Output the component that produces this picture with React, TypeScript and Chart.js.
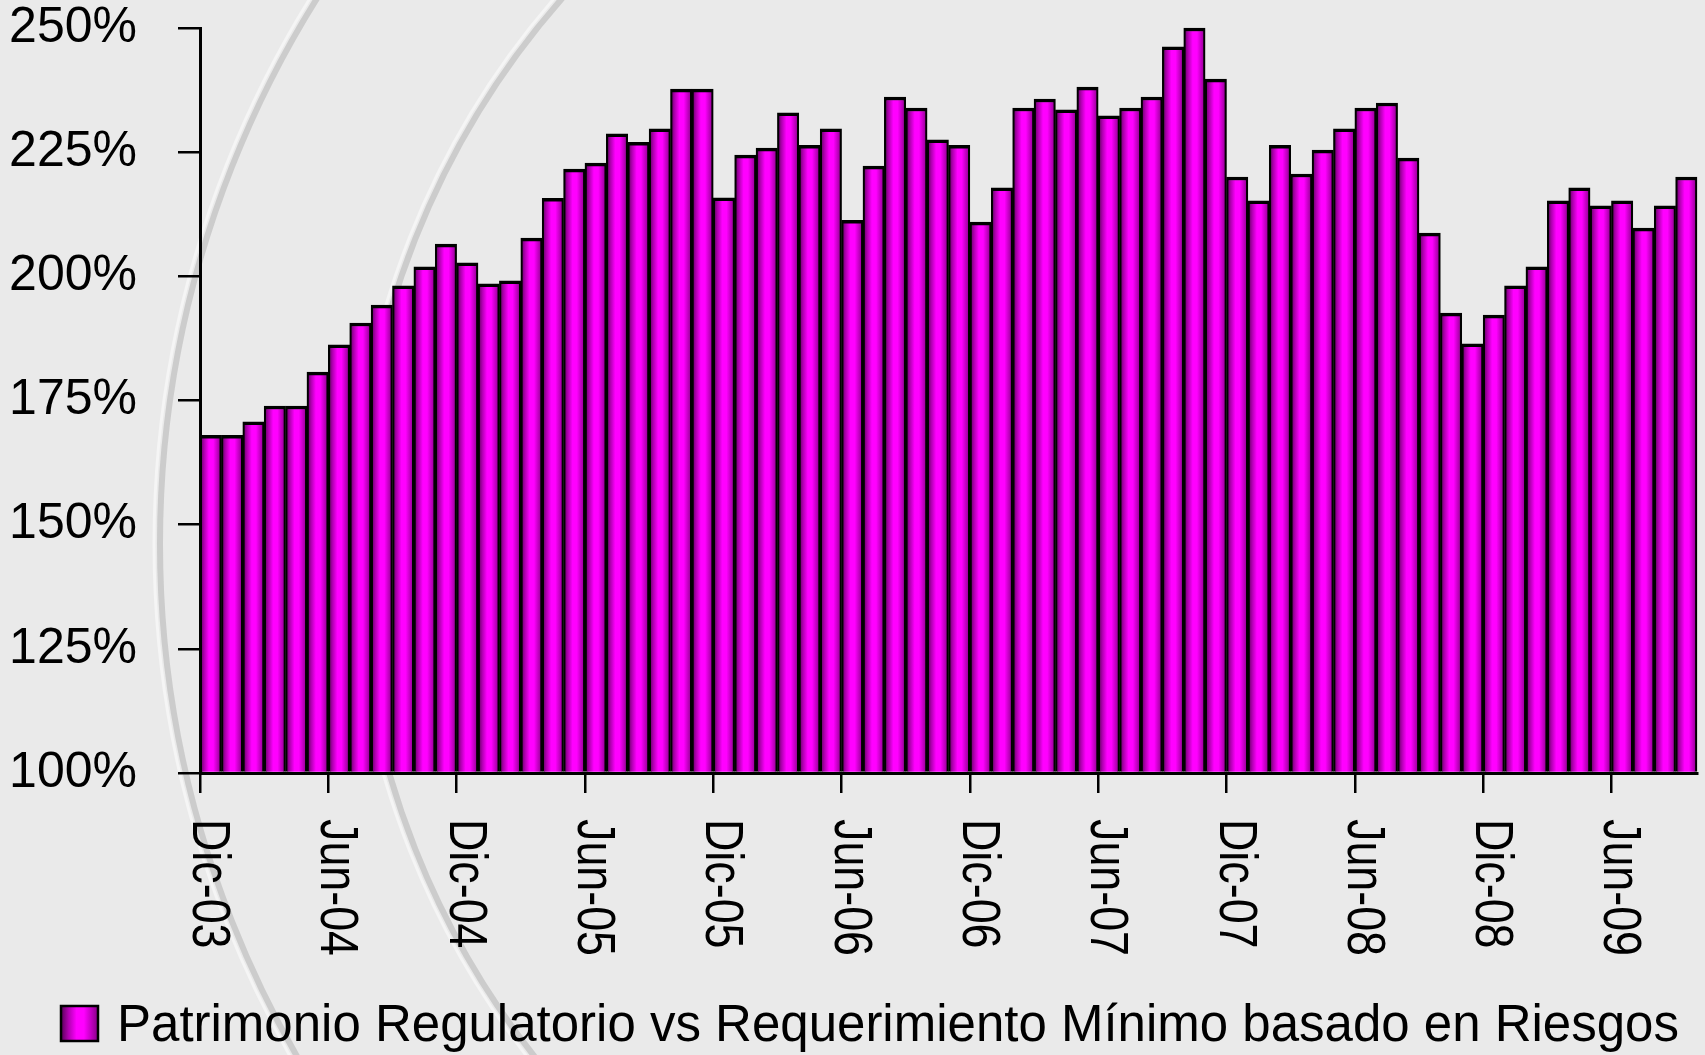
import React, { useEffect, useRef } from "react";
import { Chart, registerables } from "chart.js";

Chart.register(...registerables);

// ---------------- data ----------------
const seriesLabel = "Patrimonio Regulatorio vs Requerimiento Mínimo basado en Riesgos";

// monthly ratio, Dic-03 .. Sep-09 (70 months)
const ratioValues = [
  168.0, 168.0, 170.7, 173.9, 173.9, 180.7, 186.2, 190.6, 194.2, 198.1,
  201.9, 206.5, 202.7, 198.5, 199.1, 207.7, 215.7, 221.6, 222.8, 228.7,
  227.0, 229.7, 237.7, 237.7, 215.8, 224.4, 225.8, 232.9, 226.4, 229.7,
  211.3, 222.2, 236.1, 233.9, 227.5, 226.4, 210.9, 217.8, 233.9, 235.7,
  233.5, 238.1, 232.3, 233.9, 236.1, 246.2, 250.0, 239.7, 220.0, 215.2,
  226.4, 220.6, 225.4, 229.7, 233.9, 234.9, 223.8, 208.7, 192.6, 186.4,
  192.2, 198.1, 201.9, 215.2, 217.8, 214.2, 215.2, 209.7, 214.2, 220.0,
];

const tickLabels = [
  "Dic-03", "Jun-04", "Dic-04", "Jun-05", "Dic-05", "Jun-06",
  "Dic-06", "Jun-07", "Dic-07", "Jun-08", "Dic-08", "Jun-09",
];
const monthsPerTick = 6;

const yMin = 100;
const yMax = 250;
const yStep = 25;

// ---------------- styles ----------------
const W = 1705;
const H = 1055;
const FONT_REG = '"Liberation Sans", Arial, sans-serif';

function barGradient(ctx: CanvasRenderingContext2D, l: number, r: number) {
  const g = ctx.createLinearGradient(l, 0, r, 0);
  g.addColorStop(0, "#560056");
  g.addColorStop(0.2, "#b000b0");
  g.addColorStop(0.42, "#ff00ff");
  g.addColorStop(0.62, "#ff00ff");
  g.addColorStop(1, "#860086");
  return g;
}

const backgroundPlugin = {
  id: "paperBackground",
  beforeDraw(chart: any) {
    const ctx = chart.ctx as CanvasRenderingContext2D;
    ctx.save();
    ctx.fillStyle = "#eaeaea";
    ctx.fillRect(0, 0, chart.width, chart.height);
    // faint watermark seal arcs
    const cx = 1185, cy = 544;
    [1025, 828].forEach((r) => {
      ctx.beginPath();
      ctx.arc(cx, cy, r, 0, Math.PI * 2);
      ctx.strokeStyle = "rgba(150,150,150,0.35)";
      ctx.lineWidth = 6;
      ctx.stroke();
      ctx.beginPath();
      ctx.arc(cx, cy, r + 6, 0, Math.PI * 2);
      ctx.strokeStyle = "rgba(255,255,255,0.5)";
      ctx.lineWidth = 3;
      ctx.stroke();
    });
    ctx.restore();
  },
};

const labelsPlugin = {
  id: "rotatedLabelsAndLegend",
  afterDraw(chart: any) {
    const ctx = chart.ctx as CanvasRenderingContext2D;
    const xs = chart.scales.x;
    ctx.save();
    ctx.fillStyle = "#000";
    ctx.font = `54px ${FONT_REG}`;
    ctx.textAlign = "left";
    ctx.textBaseline = "alphabetic";
    xs.ticks.forEach((t: any, k: number) => {
      const px = xs.getPixelForValue(t.value);
      ctx.save();
      ctx.translate(px - 7, chart.chartArea.bottom + 46);
      ctx.rotate(Math.PI / 2);
      ctx.scale(0.83, 1);
      ctx.fillText(tickLabels[k], 0, 0);
      ctx.restore();
    });

    // legend
    const bx = 61, by = 1006, bw = 37, bh = 35;
    ctx.fillStyle = barGradient(ctx, bx, bx + bw);
    ctx.fillRect(bx, by, bw, bh);
    ctx.strokeStyle = "#000";
    ctx.lineWidth = 2.5;
    ctx.strokeRect(bx, by, bw, bh);
    ctx.fillStyle = "#000";
    ctx.font = `51px ${FONT_REG}`;
    ctx.fillText(chart.data.datasets[0].label, 117, 1041);
    ctx.restore();
  },
};

export default function App() {
  const canvasRef = useRef<HTMLCanvasElement | null>(null);

  useEffect(() => {
    document.body.style.margin = "0";
    const canvas = canvasRef.current;
    if (!canvas) return;

    const points = ratioValues.map((v, i) => ({ x: i + 0.5, y: v }));
    const tickValues = tickLabels.map((_, k) => k * monthsPerTick);

    const chart = new Chart(canvas, {
      type: "bar",
      data: {
        datasets: [
          {
            label: seriesLabel,
            data: points as any,
            base: yMin,
            backgroundColor: (c: any) => {
              const ch = c.chart;
              const xs = ch.scales && ch.scales.x;
              if (!xs || c.dataIndex === undefined || c.type !== "data") return "#ff00ff";
              const l = xs.getPixelForValue(c.dataIndex);
              const r = xs.getPixelForValue(c.dataIndex + 1);
              if (!isFinite(l) || !isFinite(r)) return "#ff00ff";
              return barGradient(ch.ctx, l, r);
            },
            borderColor: "#000",
            borderWidth: { top: 3.5, left: 2.2, right: 2.2, bottom: 0 } as any,
            borderSkipped: false,
            barPercentage: 1,
            categoryPercentage: 1,
            clip: false as any,
          } as any,
        ],
      },
      options: {
        animation: false,
        responsive: true,
        maintainAspectRatio: false,
        layout: { padding: { top: 28, right: 8, left: 0, bottom: 0 } },
        plugins: {
          legend: { display: false },
          tooltip: { enabled: false },
        },
        scales: {
          x: {
            type: "linear",
            min: 0,
            max: ratioValues.length,
            offset: false,
            afterBuildTicks: (scale: any) => {
              scale.ticks = tickValues.map((v) => ({ value: v }));
            },
            afterFit: (scale: any) => {
              scale.height = 282;
              scale.paddingLeft = 0;
              scale.paddingRight = 0;
            },
            ticks: { display: false },
            grid: {
              display: true,
              offset: false,
              drawOnChartArea: false,
              drawTicks: true,
              tickLength: 20,
              color: "#000",
              lineWidth: 2.5,
            },
            border: { display: true, color: "#000", width: 3, z: 1 },
          },
          y: {
            min: yMin,
            max: yMax,
            afterFit: (scale: any) => {
              scale.width = 200;
              scale.paddingTop = 0;
              scale.paddingBottom = 0;
            },
            ticks: {
              stepSize: yStep,
              color: "#000",
              padding: 41,
              font: { family: FONT_REG, size: 50 },
              callback: (v: any) => `${v}%`,
            },
            grid: {
              display: true,
              offset: false,
              drawOnChartArea: false,
              drawTicks: true,
              tickLength: 22,
              color: "#000",
              lineWidth: 2.5,
            },
            border: { display: true, color: "#000", width: 3, z: 1 },
          },
        },
      },
      plugins: [backgroundPlugin, labelsPlugin],
    });
    chart.update();

    return () => chart.destroy();
  }, []);

  return (
    <div style={{ position: "relative", width: W, height: H }}>
      <canvas ref={canvasRef} />
    </div>
  );
}
